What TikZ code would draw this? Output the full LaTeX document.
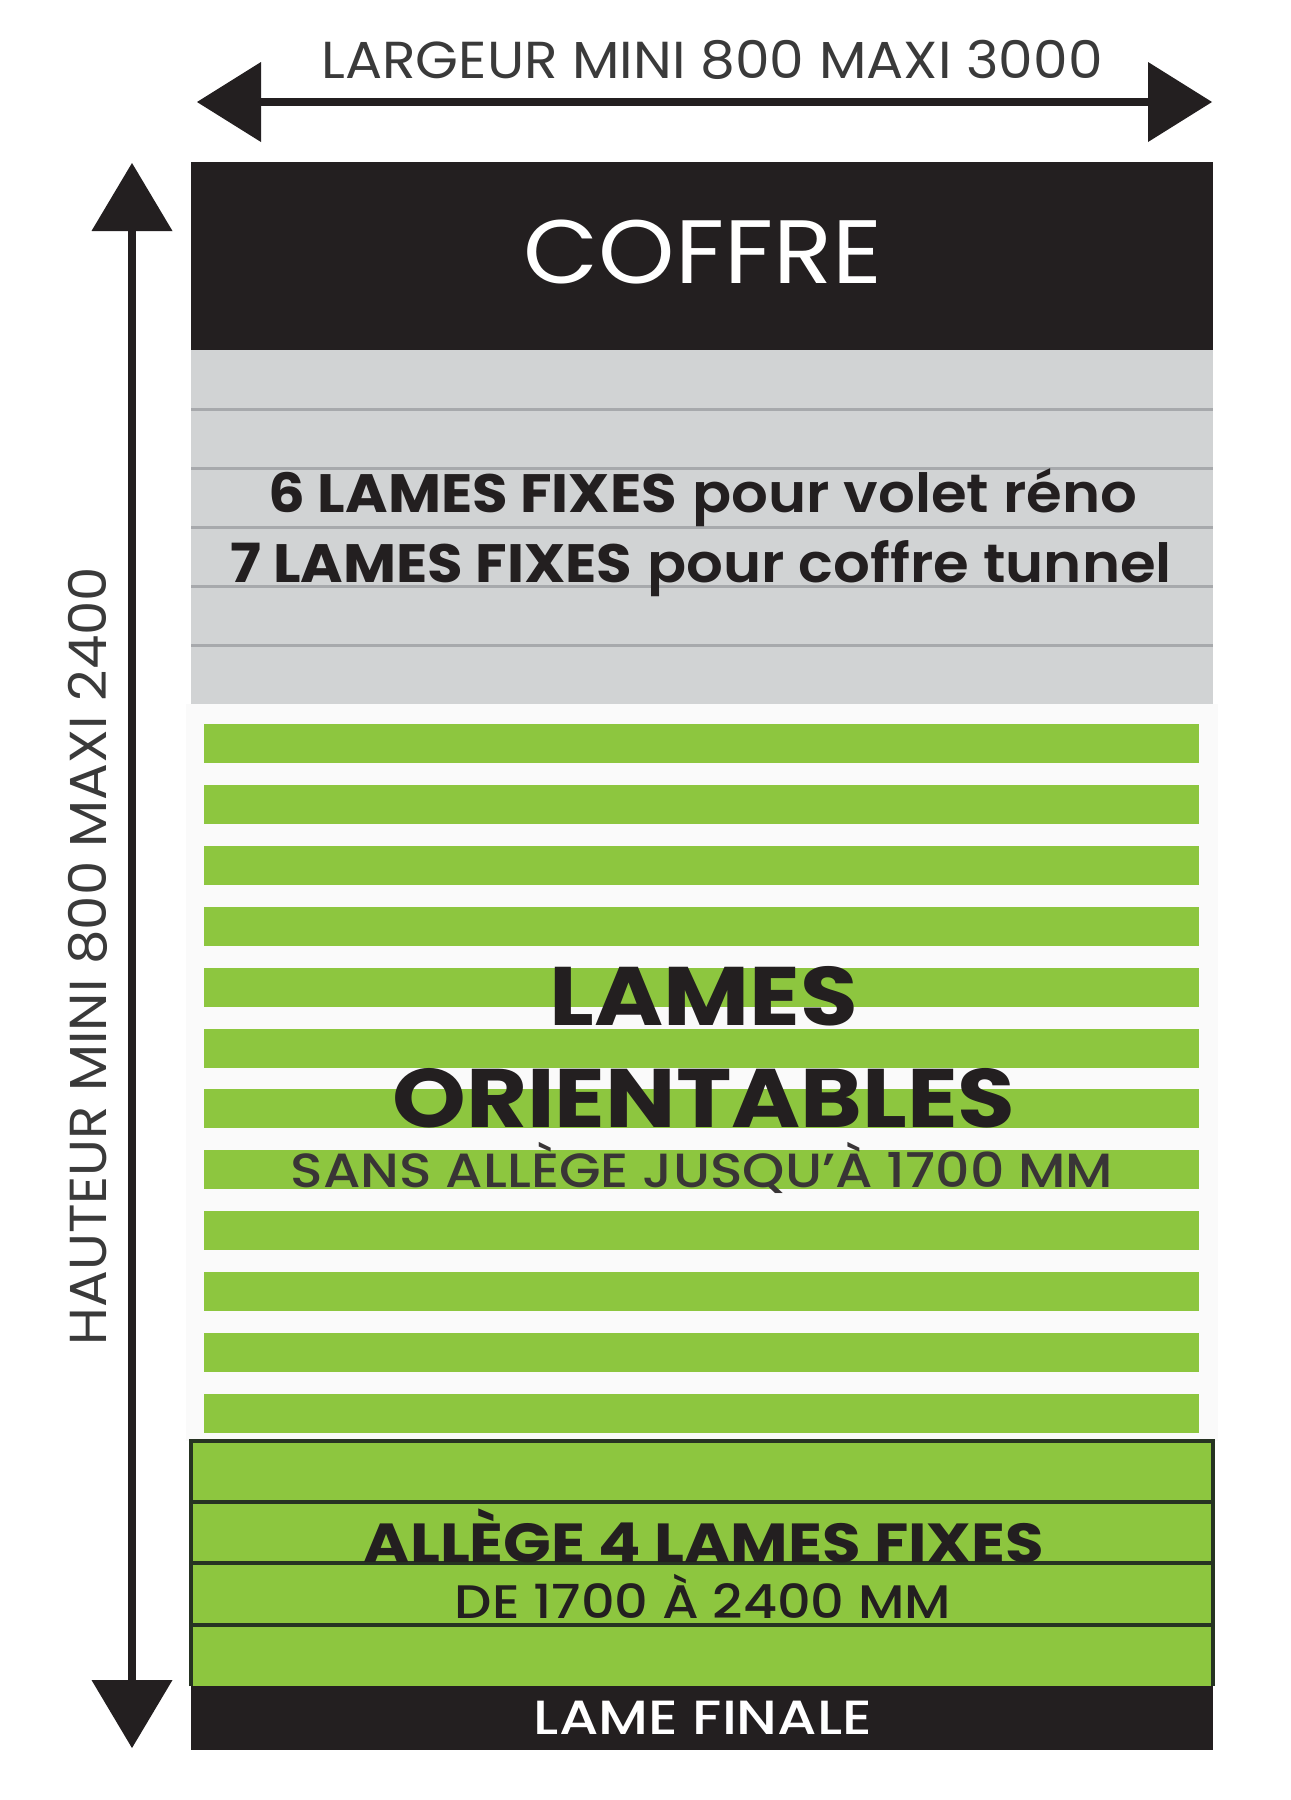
\documentclass[tikz,border=0pt]{standalone}
\usepackage{graphicx}
\usepackage{fontspec}
\setmainfont{Poppins}
\newfontfamily\popmed{Poppins Medium}[Ligatures=TeX]
\newfontfamily\popsemi{Poppins SemiBold}[Ligatures=TeX]
\usetikzlibrary{arrows.meta}
\definecolor{blk}{HTML}{231F20}
\definecolor{grayslat}{HTML}{D1D3D4}
\definecolor{grayline}{HTML}{A7A9AC}
\definecolor{grn}{HTML}{8DC63F}
\definecolor{txtgray}{HTML}{3A3A3A}
\definecolor{bord}{HTML}{263322}
\definecolor{bgpale}{HTML}{FAFAFA}
\newcommand{\fsz}[1]{\fontsize{#1}{#1}\selectfont}
\newcommand{\wide}[2]{\scalebox{#1}[1]{#2}}
\begin{document}
\begin{tikzpicture}[x=1pt,y=-1pt,
  lbl/.style={inner sep=0pt, anchor=base},
  dimarrow/.style={line width=7.5pt, draw=blk}]
\useasboundingbox (0,0) rectangle (1291,1800);
\fill[white] (0,0) rectangle (1291,1800);

% width dimension
\coordinate (wl) at (197,102);
\coordinate (wr) at (1212,102);
\draw[dimarrow, {Triangle[length=64pt,width=80pt,line width=0pt]}-{Triangle[length=64pt,width=80pt,line width=0pt]}] (wl) -- (wr);
\node[lbl, text=txtgray] (largeur) at (712,78) {\fsz{52}\wide{1.06}{LARGEUR MINI 800 MAXI 3000}};

% height dimension
\coordinate (ht) at (132,163);
\coordinate (hb) at (132,1748);
\draw[dimarrow, {Triangle[length=68pt,width=81pt,line width=0pt]}-{Triangle[length=68pt,width=81pt,line width=0pt]}] (ht) -- (hb);
\node[lbl, rotate=90, text=txtgray] (hauteur) at (106,956) {\fsz{52}\wide{1.05}{HAUTEUR MINI 800 MAXI 2400}};

% coffre
\fill[blk] (191,162) rectangle (1213,350);
\node[lbl, text=white] (coffre) at (703,283) {\fsz{90}\wide{1.08}{COFFRE}};

% fixed grey slats
\fill[grayslat] (191,350) rectangle (1213,704);
\foreach \k in {1,...,5} \draw[grayline, line width=3pt] (191,350+59*\k) -- (1213,350+59*\k);
\node[lbl, text=blk] (fix1) at (703,512) {\fsz{54}\wide{1.07}{\textbf{6 LAMES FIXES} {\popsemi pour volet réno}}};
\node[lbl, text=blk] (fix2) at (701,582) {\fsz{54}\wide{1.07}{\textbf{7 LAMES FIXES} {\popsemi pour coffre tunnel}}};

% orientable green slats
\fill[bgpale] (186,704) rectangle (1218,1441);
\foreach \i in {0,...,11} \fill[grn] (204,724+60.9*\i) rectangle (1199,763+60.9*\i);
\node[lbl, text=blk] (lames) at (704,1025) {\fsz{83}\wide{1.13}{\textbf{LAMES}}};
\node[lbl, text=blk] (orient) at (704,1127) {\fsz{83}\wide{1.13}{\textbf{ORIENTABLES}}};
\node[lbl, text=blk!90] (sans) at (702,1187) {\fsz{48}\wide{1.12}{\popmed SANS ALLÈGE JUSQU’À 1700 MM}};

% allege
\fill[grn] (191,1441) rectangle (1213,1686);
\foreach \y in {1502,1563,1625} \draw[bord, line width=3.5pt] (191,\y) -- (1213,\y);
\draw[bord, line width=3.5pt] (191,1686) -- (191,1441) -- (1213,1441) -- (1213,1686);
\node[lbl, text=blk] (allege) at (704,1562) {\fsz{55}\wide{1.14}{\textbf{ALLÈGE 4 LAMES FIXES}}};
\node[lbl, text=blk] (de) at (703,1618) {\fsz{47}\wide{1.12}{\popmed DE 1700 À 2400 MM}};

% lame finale
\fill[blk] (191,1686) rectangle (1213,1750);
\node[lbl, text=white] (finale) at (703,1734) {\fsz{48}\wide{1.18}{\popmed LAME FINALE}};
\end{tikzpicture}
\end{document}
